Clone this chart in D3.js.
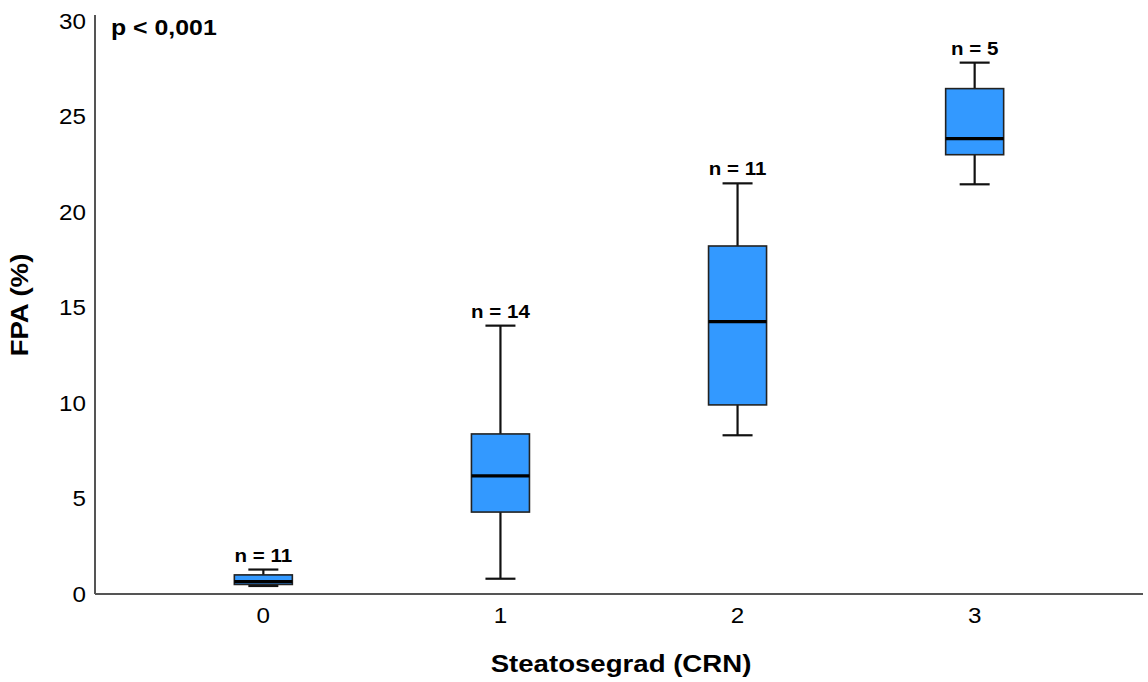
<!DOCTYPE html>
<html>
<head>
<meta charset="utf-8">
<script src="https://cdn.jsdelivr.net/npm/d3@7"></script>
<style>
  body { margin: 0; background: #fff; }
  text { font-family: "Liberation Sans", Arial, sans-serif; fill: #000; }
</style>
</head>
<body>
<div id="chart"></div>
<script>
// data
var grades = ["0", "1", "2", "3"],
    counts = [11, 14, 11, 5],
    whiskerLow = [0.42, 0.80, 8.31, 21.45],
    q1 = [0.50, 4.29, 9.90, 23.00],
    median = [0.65, 6.18, 14.26, 23.84],
    q3 = [1.00, 8.38, 18.22, 26.46],
    whiskerHigh = [1.28, 14.05, 21.50, 27.82],
    yTicks = [0, 5, 10, 15, 20, 25, 30];

// settings ("top" is taken by window.top, so plot* names)
var width = 1148, height = 682,
    plotLeft = 95, plotRight = 1143, plotTop = 21, plotBottom = 594;

var boxes = grades.map(function(g, i) {
    return { grade: g, n: counts[i], lo: whiskerLow[i], q1: q1[i], med: median[i], q3: q3[i], hi: whiskerHigh[i] };
});

var x = d3.scalePoint().domain(grades).range([plotLeft, plotRight]).padding(0.71),
    y = d3.scaleLinear().domain([0, 30]).range([plotBottom, plotTop]);

var svg = d3.select("#chart").append("svg")
    .attr("width", width)
    .attr("height", height);

// text in the picture is drawn a bit wide, so squeeze it out horizontally
function label(sel, tx, ty, stretch, extra) {
    return sel.attr("transform", "translate(" + tx + "," + ty + ")" + (extra || "") + " scale(" + stretch + ",1)");
}

// y tick labels (no tick marks)
svg.selectAll(".ytick")
    .data(yTicks)
    .enter().append("text")
        .attr("class", "ytick")
        .text(function(d) { return d; })
        .style("font-size", "22px")
        .style("text-anchor", "end")
        .attr("dy", "0.35em")
        .each(function(d) { label(d3.select(this), 86, y(d), 1.1); });

// x tick labels
svg.selectAll(".xtick")
    .data(grades)
    .enter().append("text")
        .attr("class", "xtick")
        .text(function(d) { return d; })
        .style("font-size", "22px")
        .style("text-anchor", "middle")
        .each(function(d) { label(d3.select(this), x(d), 623, 1.1); });

// axes lines
svg.append("line")
    .attr("x1", plotLeft).attr("x2", plotLeft)
    .attr("y1", plotTop - 6).attr("y2", plotBottom)
    .attr("stroke", "#555").attr("stroke-width", 2);
svg.append("line")
    .attr("x1", plotLeft).attr("x2", plotRight)
    .attr("y1", plotBottom).attr("y2", plotBottom)
    .attr("stroke", "#555").attr("stroke-width", 2);

var boxW = 58, capW = 30;

var g = svg.selectAll(".box")
    .data(boxes)
    .enter().append("g")
        .attr("class", "box");

// whiskers
g.append("line")
    .attr("x1", function(d) { return x(d.grade); })
    .attr("x2", function(d) { return x(d.grade); })
    .attr("y1", function(d) { return y(d.hi); })
    .attr("y2", function(d) { return y(d.lo); })
    .attr("stroke", "#111").attr("stroke-width", 2.2);
["hi", "lo"].forEach(function(k) {
    g.append("line")
        .attr("x1", function(d) { return x(d.grade) - capW / 2; })
        .attr("x2", function(d) { return x(d.grade) + capW / 2; })
        .attr("y1", function(d) { return y(d[k]); })
        .attr("y2", function(d) { return y(d[k]); })
        .attr("stroke", "#111").attr("stroke-width", 2.2);
});

g.append("rect")
    .attr("x", function(d) { return x(d.grade) - boxW / 2; })
    .attr("y", function(d) { return y(d.q3); })
    .attr("width", boxW)
    .attr("height", function(d) { return y(d.q1) - y(d.q3); })
    .attr("fill", "#3399ff")
    .attr("stroke", "#222")
    .attr("stroke-width", 1.6);

g.append("line")
    .attr("x1", function(d) { return x(d.grade) - boxW / 2; })
    .attr("x2", function(d) { return x(d.grade) + boxW / 2; })
    .attr("y1", function(d) { return y(d.med); })
    .attr("y2", function(d) { return y(d.med); })
    .attr("stroke", "#000").attr("stroke-width", 3.2);

// n labels
g.append("text")
    .text(function(d) { return "n = " + d.n; })
    .style("font-size", "19px")
    .style("font-weight", "bold")
    .style("text-anchor", "middle")
    .each(function(d) { label(d3.select(this), x(d.grade), y(d.hi) - 8, 1.08); });

// annotation and titles
label(svg.append("text")
    .text("p < 0,001")
    .style("font-size", "22px")
    .style("font-weight", "bold"), 111, 35, 1.13);

label(svg.append("text")
    .text("Steatosegrad (CRN)")
    .style("font-size", "24px")
    .style("font-weight", "bold")
    .style("text-anchor", "middle"), 621, 672, 1.15);

svg.append("text")
    .text("FPA (%)")
    .style("font-size", "23px")
    .style("font-weight", "bold")
    .style("text-anchor", "middle")
    .attr("transform", "translate(28,305) rotate(-90) scale(1.2,1)");
</script>
</body>
</html>
